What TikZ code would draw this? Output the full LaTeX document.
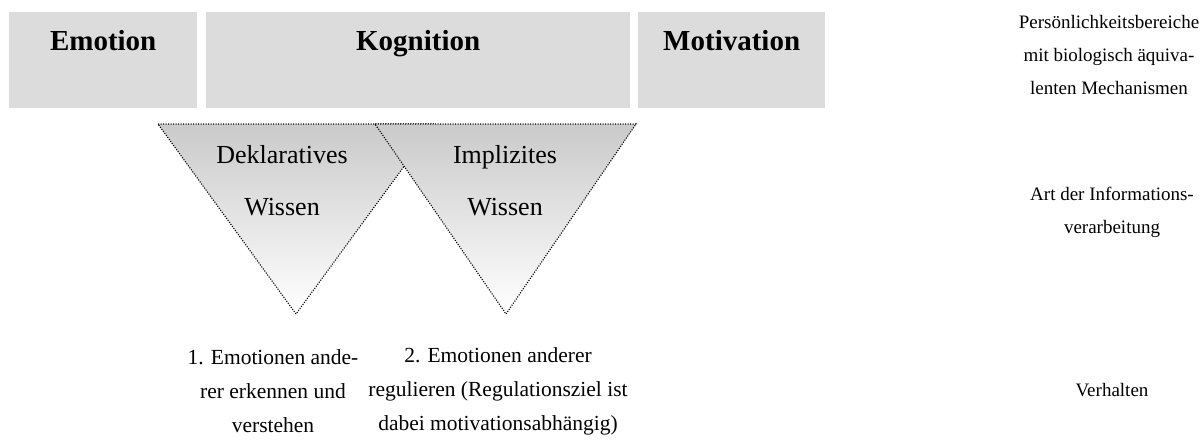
\documentclass[tikz,border=0pt]{standalone}
\usepackage{fontspec}
\setmainfont{Liberation Serif}
\definecolor{boxgray}{RGB}{220,220,220}
\definecolor{wedgegray}{RGB}{202,202,202}
\begin{document}
\begin{tikzpicture}[x=1pt,y=-1pt,
  areabox/.style={fill=boxgray, inner sep=0pt, anchor=north west,
    text height=38pt, text depth=58pt, font=\fontsize{29}{32}\selectfont\bfseries},
  body/.style={align=center, inner sep=0pt, font=\fontsize{21.5}{34}\selectfont},
  caption/.style={align=center, inner sep=0pt, font=\fontsize{19}{33}\selectfont},
  wedgetext/.style={align=center, inner sep=0pt, font=\fontsize{26}{52}\selectfont},
  wedge/.style={top color=wedgegray, bottom color=white, draw=black,
    line width=1.1pt, dash pattern=on 1.1pt off 1.4pt}]
\useasboundingbox (0,0) rectangle (1202,444);

% personality areas
\node[areabox, minimum width=188pt] (emotion)    at (9,12)   {Emotion};
\node[areabox, minimum width=424pt] (kognition)  at (206,12) {Kognition};
\node[areabox, minimum width=187pt] (motivation) at (638,12) {Motivation};

% kinds of knowledge (right wedge overlaps the left one)
\coordinate (dA) at (158,124);
\coordinate (dB) at (435,124);
\coordinate (dC) at (296,314);
\coordinate (iA) at (375,124);
\coordinate (iB) at (636,124);
\coordinate (iC) at (506,314);
\path[wedge] (dA) -- (dB) -- (dC) -- cycle;
\path[wedge] (iA) -- (iB) -- (iC) -- cycle;
\node[wedgetext] (deklarativ) at (282,181) {Deklaratives\\Wissen};
\node[wedgetext] (implizit)   at (505,181) {Implizites\\Wissen};

% behaviour
\node[body] (erkennen)   at (273,391) {1. Emotionen ande-\\rer erkennen und\\verstehen};
\node[body] (regulieren) at (498,391) {2. Emotionen anderer\\regulieren (Regulationsziel ist\\dabei motivationsabhängig)};

% row captions
\node[caption] (capareas)     at (1109,55)  {Persönlichkeitsbereiche\\mit biologisch äquiva-\\lenten Mechanismen};
\node[caption] (capinfo)      at (1112,212) {Art der Informations-\\verarbeitung};
\node[caption] (capbehaviour) at (1112,390) {Verhalten};
\end{tikzpicture}
\end{document}
